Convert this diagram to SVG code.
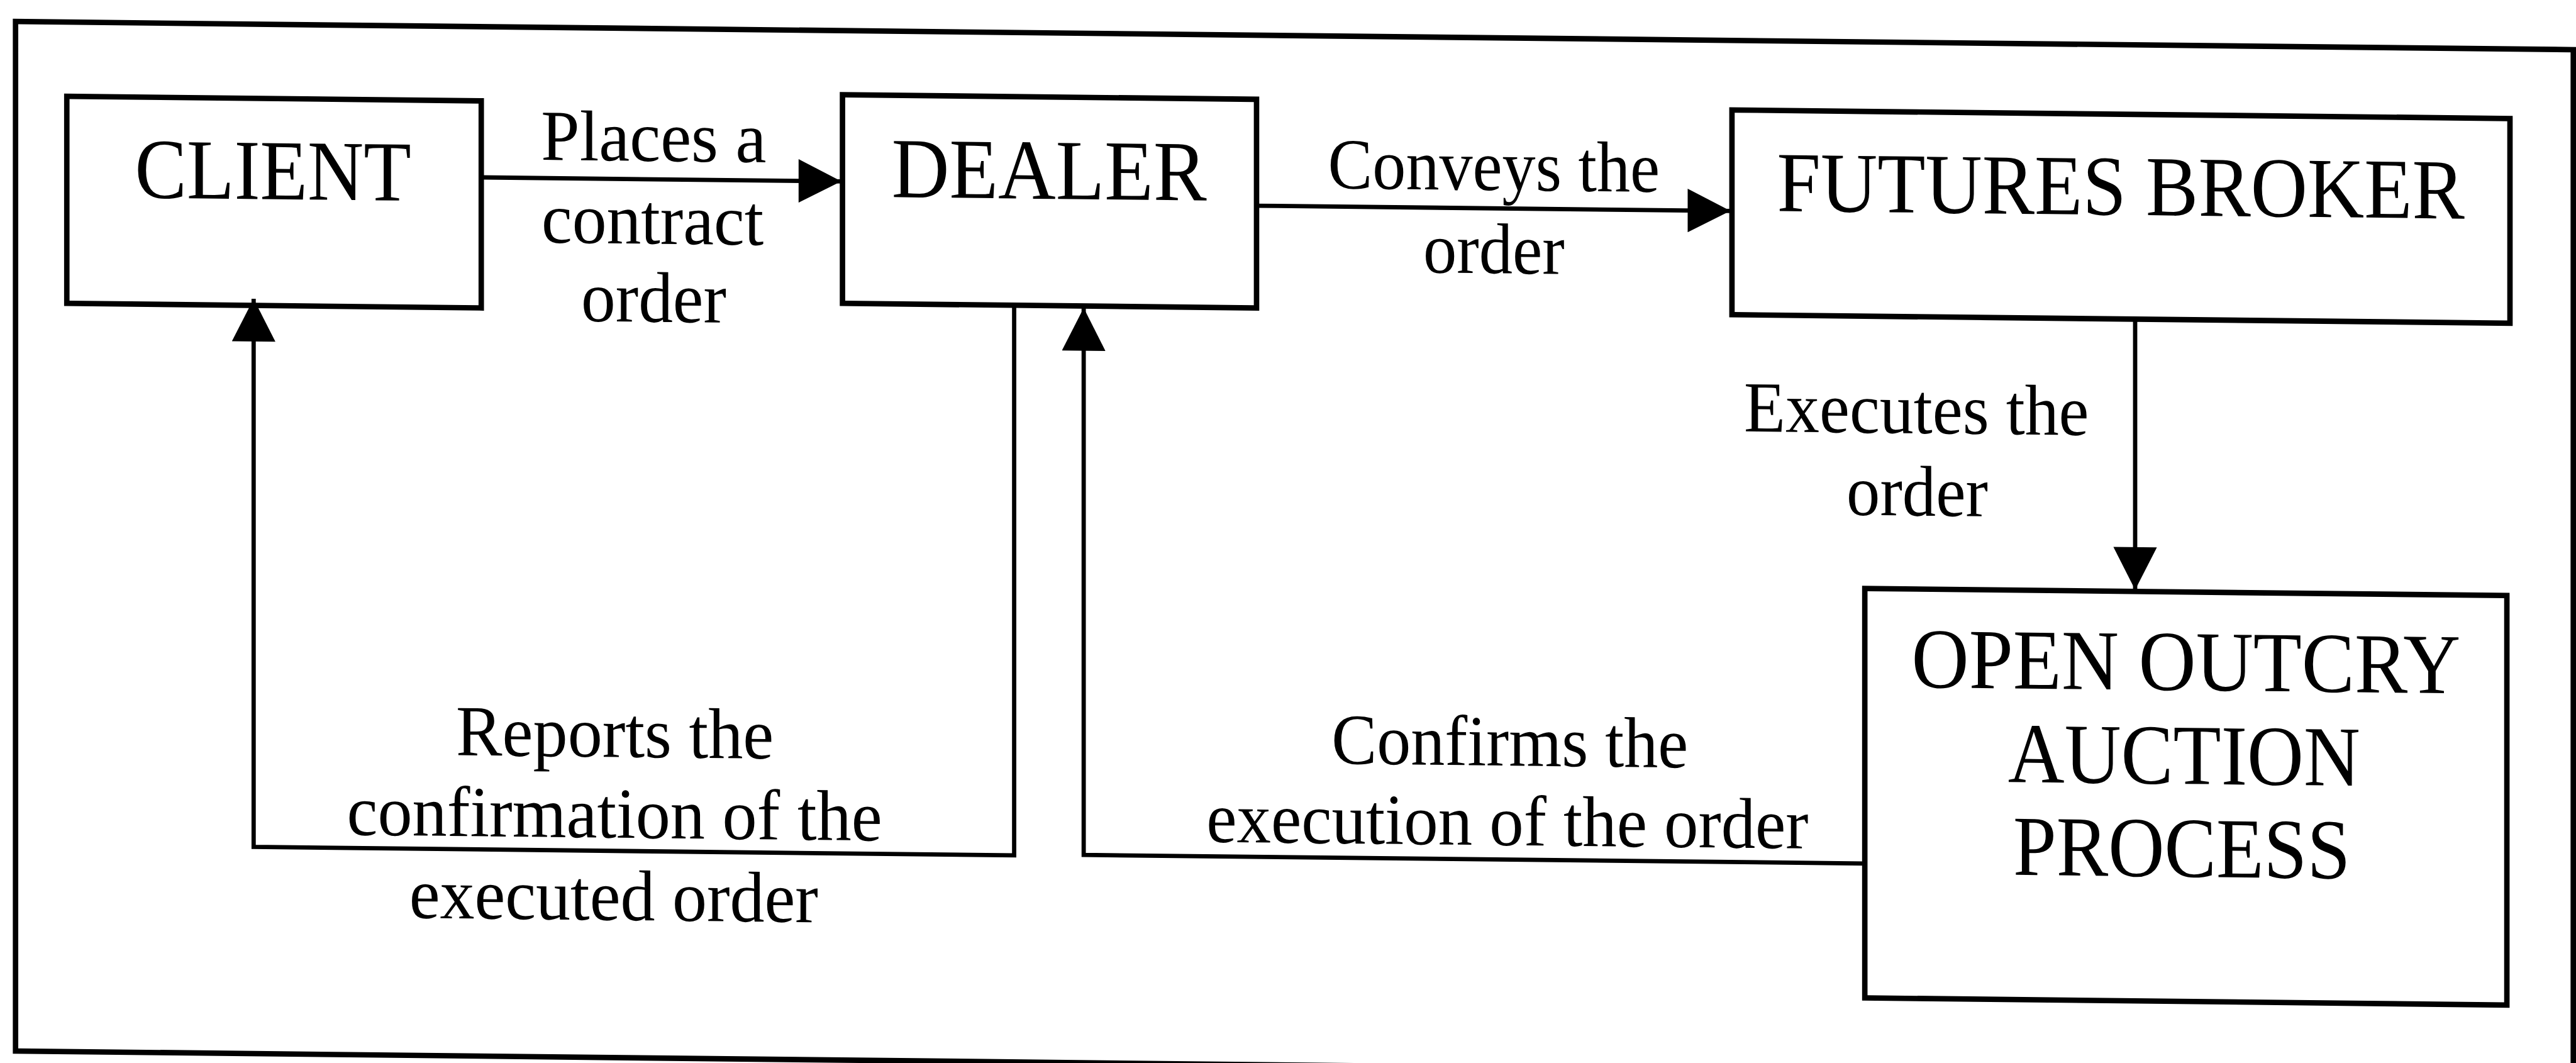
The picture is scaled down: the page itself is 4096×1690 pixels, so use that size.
<svg xmlns="http://www.w3.org/2000/svg" width="4096" height="1690" viewBox="0 0 4096 1690">
<defs>
<style>
.box{fill:#fff;stroke:#000;stroke-width:14}
.frame{fill:none;stroke:#000;stroke-width:14}
.conn{fill:none;stroke:#000;stroke-width:11;marker-end:url(#arrow)}
.node{font-family:"Liberation Serif","Times New Roman",serif;font-size:220px;text-anchor:middle;fill:#000}
.lbl{font-family:"Liberation Serif","Times New Roman",serif;font-size:185px;text-anchor:middle;fill:#000}
</style>
<marker id="arrow" markerUnits="userSpaceOnUse" markerWidth="112" markerHeight="112" viewBox="0 0 110 112" refX="110" refY="56" orient="auto"><path d="M0,0 L110,56 L0,112 Z" fill="#000"/></marker>
</defs>
<rect width="4096" height="1690" fill="#fff"/>
<g transform="matrix(0.617612,0.0067937,0,0.617612,0,0)">
<rect class="frame" x="40" y="55" width="6585" height="2650"/>

<g id="client">
<rect class="box" x="172" y="246" width="1067" height="533"/>
<text class="node" x="703" y="505" textLength="711" lengthAdjust="spacingAndGlyphs">CLIENT</text>
</g>
<g id="dealer">
<rect class="box" x="2169" y="220" width="1066" height="537"/>
<text class="node" x="2701" y="482" textLength="811" lengthAdjust="spacingAndGlyphs">DEALER</text>
</g>
<g id="futures-broker">
<rect class="box" x="4459" y="234" width="2003" height="527"/>
<text class="node" x="5460" y="493" textLength="1770" lengthAdjust="spacingAndGlyphs">FUTURES BROKER</text>
</g>
<g id="open-outcry">
<rect class="box" x="4801" y="1462" width="1653" height="1054"/>
<text class="node" x="5628" y="1715" textLength="1413" lengthAdjust="spacingAndGlyphs">OPEN OUTCRY</text>
<text class="node" x="5623" y="1956" textLength="907" lengthAdjust="spacingAndGlyphs">AUCTION</text>
<text class="node" x="5617" y="2195" textLength="868" lengthAdjust="spacingAndGlyphs">PROCESS</text>
</g>

<g id="connectors">
<g id="c-client-dealer">
<path class="conn" d="M1239,443 H2166"/>
<text class="lbl" x="1683" y="396" textLength="580" lengthAdjust="spacingAndGlyphs">Places a</text>
<text class="lbl" x="1680" y="609" textLength="572" lengthAdjust="spacingAndGlyphs">contract</text>
<text class="lbl" x="1683" y="810" textLength="374" lengthAdjust="spacingAndGlyphs">order</text>
</g>
<g id="c-dealer-broker">
<path class="conn" d="M3235,494 H4455"/>
<text class="lbl" x="3846" y="447" textLength="854" lengthAdjust="spacingAndGlyphs">Conveys the</text>
<text class="lbl" x="3846" y="661" textLength="364" lengthAdjust="spacingAndGlyphs">order</text>
</g>
<g id="c-broker-auction">
<path class="conn" d="M5497,761 V1458"/>
<text class="lbl" x="4934" y="1061" textLength="888" lengthAdjust="spacingAndGlyphs">Executes the</text>
<text class="lbl" x="4936" y="1273" textLength="364" lengthAdjust="spacingAndGlyphs">order</text>
</g>
<g id="c-dealer-client">
<path class="conn" d="M2611,757 V2173 H653 V762"/>
<text class="lbl" x="1583" y="1931" textLength="818" lengthAdjust="spacingAndGlyphs">Reports the</text>
<text class="lbl" x="1582" y="2139" textLength="1378" lengthAdjust="spacingAndGlyphs">confirmation of the</text>
<text class="lbl" x="1580" y="2351" textLength="1053" lengthAdjust="spacingAndGlyphs">executed order</text>
</g>
<g id="c-auction-dealer">
<path class="conn" d="M4801,2170 H2790 V762"/>
<text class="lbl" x="3887" y="1928" textLength="918" lengthAdjust="spacingAndGlyphs">Confirms the</text>
<text class="lbl" x="3881" y="2133" textLength="1550" lengthAdjust="spacingAndGlyphs">execution of the order</text>
</g>
</g>
</g>
</svg>
